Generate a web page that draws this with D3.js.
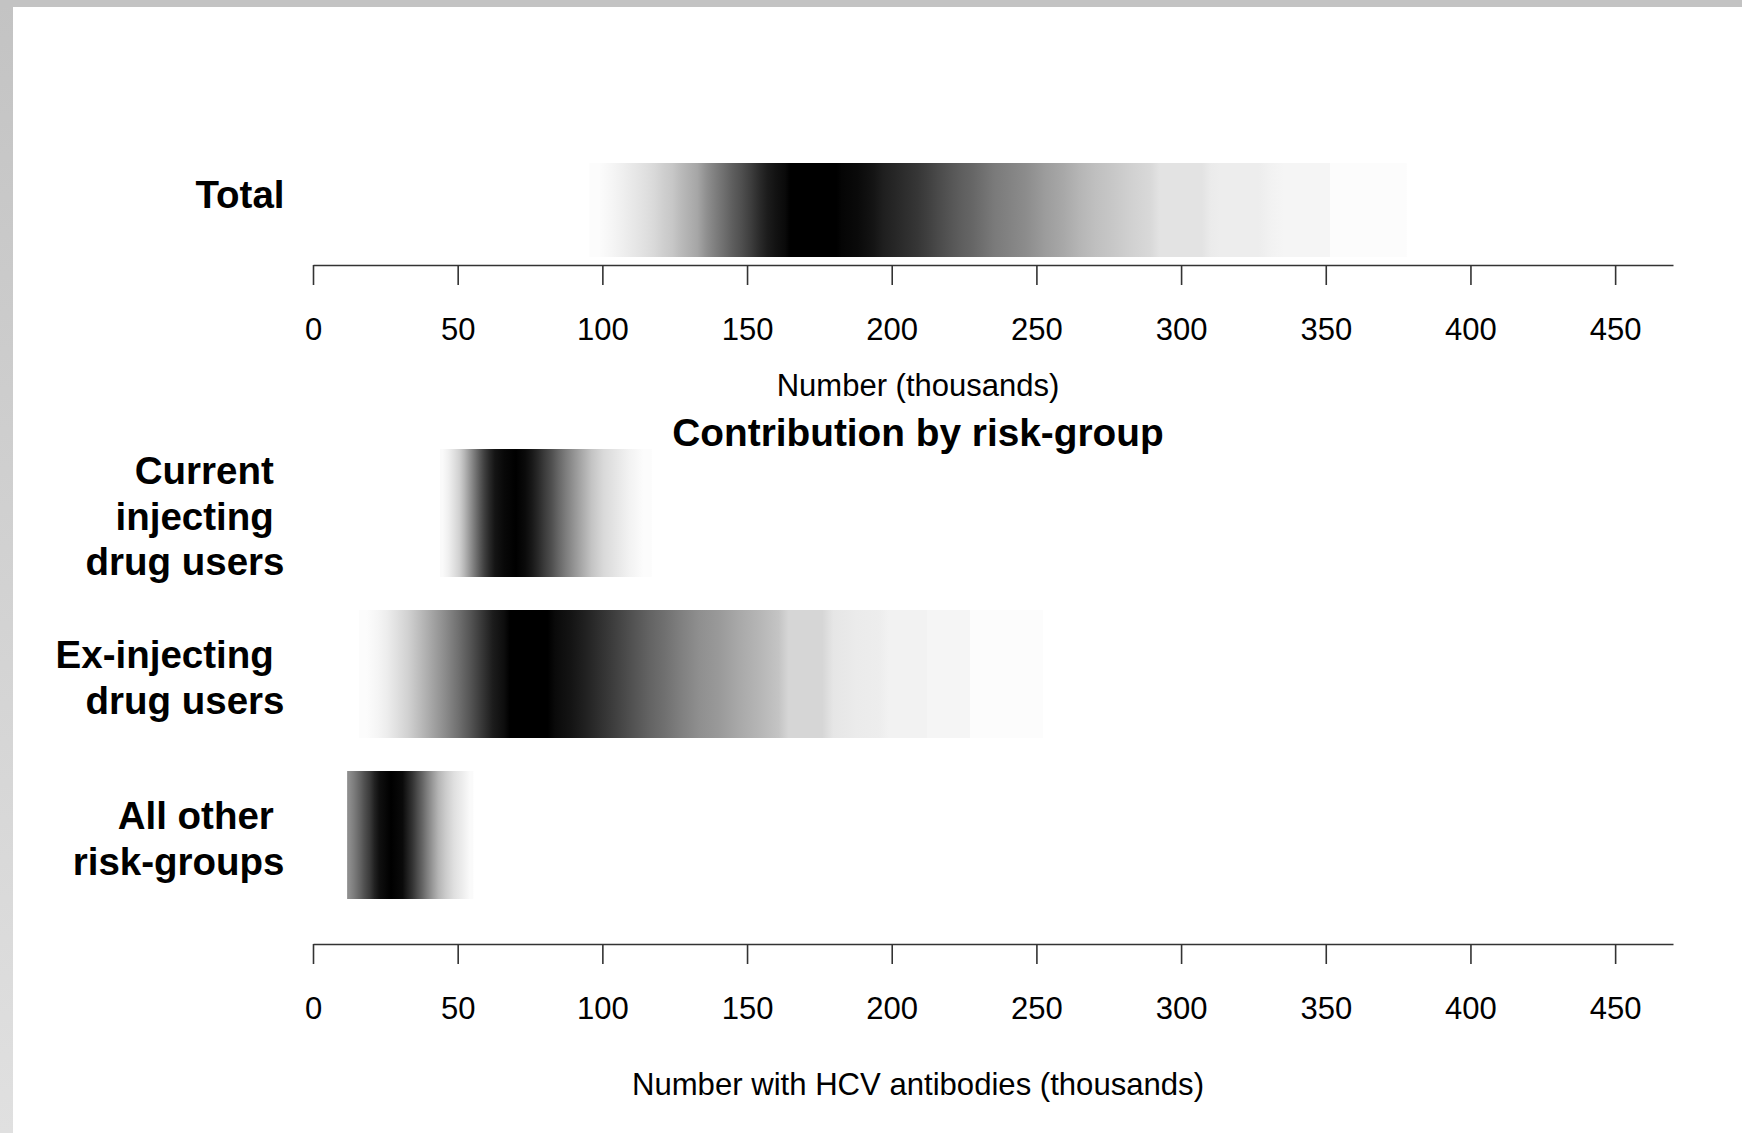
<!DOCTYPE html>
<html>
<head>
<meta charset="utf-8">
<script src="https://cdn.jsdelivr.net/npm/d3@7"></script>
<style>
  html, body { margin: 0; padding: 0; background: #ffffff; }
  svg { display: block; }
  text { font-family: "Liberation Sans", Arial, sans-serif; fill: #000; }
</style>
</head>
<body>
<svg id="chart" width="1742" height="1133"></svg>
<script>
// Number with HCV antibodies (thousands): density strips.
// Each strip is a run of bands; edges are in thousands, density is relative to the peak (0..1).

const tickValues = [0, 50, 100, 150, 200, 250, 300, 350, 400, 450];

const totalEdges = [95.5, 102.1, 105.0, 107.8, 110.2, 113.0, 116.5, 119.3, 122.8, 125.7, 128.6, 131.4,
  134.3, 137.8, 140.7, 143.5, 146.4, 149.9, 152.8, 155.6, 158.5, 161.4, 164.9, 181.0, 184.5, 191.9,
  195.4, 198.8, 202.9, 206.9, 210.9, 214.4, 217.8, 221.9, 225.9, 229.9, 233.4, 237.4, 243.2, 249.5,
  256.5, 262.2, 267.4, 273.1, 279.5, 286.4, 292.7, 307.2, 313.5, 326.7, 335.4, 351.5, 378.0];
const totalDensity = [0.01, 0.04, 0.06, 0.08, 0.10, 0.12, 0.15, 0.19, 0.22, 0.27, 0.31, 0.35, 0.44,
  0.51, 0.57, 0.63, 0.69, 0.76, 0.83, 0.89, 0.93, 0.96, 1.00, 0.98, 0.96, 0.92, 0.88, 0.85, 0.82,
  0.79, 0.75, 0.71, 0.67, 0.63, 0.60, 0.56, 0.52, 0.49, 0.45, 0.39, 0.34, 0.29, 0.25, 0.22, 0.18,
  0.15, 0.11, 0.08, 0.07, 0.05, 0.04, 0.01];

const groups = ["current", "ex", "other"];
const groupLabels = [["Current ", "injecting ", "drug users"], ["Ex-injecting ", "drug users"], ["All other ", "risk-groups"]];

const currentEdges = [43.9, 45.6, 47.9, 49.7, 51.4, 53.1, 54.9, 56.6, 58.3, 60.0, 61.8, 64.0, 68.1,
  72.1, 74.4, 76.7, 79.0, 81.3, 83.6, 86.0, 88.8, 91.7, 94.6, 98.1, 102.7, 107.2, 111.3, 117.1];
const currentDensity = [0.02, 0.06, 0.12, 0.18, 0.28, 0.40, 0.52, 0.64, 0.75, 0.84, 0.92, 0.97, 1.00,
  0.96, 0.91, 0.84, 0.76, 0.69, 0.60, 0.51, 0.42, 0.33, 0.23, 0.15, 0.10, 0.05, 0.01];

const exEdges = [15.9, 20.9, 24.0, 27.1, 30.9, 34.8, 38.6, 43.2, 47.9, 52.5, 56.4, 60.2, 64.1, 68.0,
  81.1, 86.4, 91.9, 96.5, 101.9, 107.3, 113.5, 118.9, 124.3, 130.4, 136.6, 143.5, 150.5, 157.4,
  164.4, 176.0, 183.7, 192.1, 199.1, 212.2, 226.9, 252.3];
const exDensity = [0.01, 0.04, 0.07, 0.12, 0.18, 0.26, 0.35, 0.45, 0.56, 0.67, 0.78, 0.89, 0.95, 1.00,
  0.96, 0.92, 0.87, 0.81, 0.75, 0.68, 0.61, 0.56, 0.50, 0.44, 0.40, 0.34, 0.29, 0.23, 0.16, 0.10,
  0.08, 0.07, 0.05, 0.04, 0.01];

const otherEdges = [11.8, 13.5, 15.2, 16.9, 18.7, 20.4, 22.1, 23.8, 30.1, 31.8, 33.5, 35.2, 37.0,
  38.7, 40.4, 42.2, 44.5, 47.4, 50.2, 53.1, 55.4];
const otherDensity = [0.45, 0.52, 0.60, 0.69, 0.77, 0.87, 0.94, 1.00, 0.96, 0.88, 0.80, 0.70, 0.60,
  0.50, 0.40, 0.29, 0.20, 0.12, 0.07, 0.02];

const groupEdges = { current: currentEdges, ex: exEdges, other: otherEdges };
const groupDensity = { current: currentDensity, ex: exDensity, other: otherDensity };

// ---------------------------------------------------------------------------
const svg = d3.select("#chart");
const W = 1742, H = 1133;
const defs = svg.append("defs");

// light grey frame on the top and left edges
const lg = defs.append("linearGradient").attr("id", "frameGrad")
  .attr("x1", 0).attr("y1", 0).attr("x2", 0).attr("y2", 1);
lg.append("stop").attr("offset", "0%").attr("stop-color", "#c3c3c3");
lg.append("stop").attr("offset", "100%").attr("stop-color", "#e0e0e0");
svg.append("rect").attr("x", 0).attr("y", 0).attr("width", 13).attr("height", H).attr("fill", "url(#frameGrad)");
svg.append("rect").attr("x", 0).attr("y", 0).attr("width", W).attr("height", 7).attr("fill", "#c3c3c3");

const x = d3.scaleLinear().domain([0, 470]).range([313, 1673]);
const shade = d3.scaleLinear().domain([0, 1]).range(["#ffffff", "#000000"]).interpolate(d3.interpolateRgb);

// Shading along a strip: narrow bands blend smoothly into their neighbours,
// wide bands keep a flat tone with a hard step at their edges.
function drawStrip(id, edges, dens, y0, h) {
  const a = x(edges[0]), b = x(edges[edges.length - 1]);
  const grad = defs.append("linearGradient").attr("id", id)
    .attr("gradientUnits", "userSpaceOnUse")
    .attr("x1", a).attr("x2", b).attr("y1", 0).attr("y2", 0);
  const stops = [];
  dens.forEach((d, i) => {
    const p0 = x(edges[i]), p1 = x(edges[i + 1]);
    const wide = (p1 - p0) > 28;
    if (i === 0 || wide) stops.push({ p: p0, d });
    if (!wide) stops.push({ p: (p0 + p1) / 2, d });
    if (i === dens.length - 1 || wide) stops.push({ p: p1, d });
  });
  grad.selectAll("stop").data(stops).join("stop")
    .attr("offset", s => ((s.p - a) / (b - a) * 100).toFixed(3) + "%")
    .attr("stop-color", s => shade(s.d));
  svg.append("rect")
    .attr("x", a).attr("width", b - a)
    .attr("y", y0).attr("height", h)
    .attr("fill", `url(#${id})`);
}

function drawAxis(y) {
  const ax = d3.axisBottom(x).tickValues(tickValues).tickSize(20).tickSizeOuter(0).tickPadding(33)
    .tickFormat(d3.format("d"));
  const g = svg.append("g").attr("transform", `translate(0,${y})`).call(ax);
  g.select(".domain").attr("stroke", "#333").attr("stroke-width", 1.6);
  g.selectAll(".tick line").attr("stroke", "#333").attr("stroke-width", 1.6);
  g.selectAll(".tick text").attr("font-size", 31).attr("fill", "#000")
    .attr("font-family", "'Liberation Sans', Arial, sans-serif");
  return g;
}

// ---- Top panel: total ----
drawStrip("strip-total", totalEdges, totalDensity, 163, 94);
svg.append("text").attr("x", 284.5).attr("y", 208).attr("text-anchor", "end")
  .attr("font-size", 38.5).attr("font-weight", "bold").text("Total");
drawAxis(265);
svg.append("text").attr("x", 918).attr("y", 396).attr("text-anchor", "middle")
  .attr("font-size", 31).text("Number (thousands)");

// ---- Bottom panel: by risk-group ----
svg.append("text").attr("x", 918).attr("y", 446).attr("text-anchor", "middle")
  .attr("font-size", 38.8).attr("font-weight", "bold").text("Contribution by risk-group");

const yb = d3.scaleBand().domain(groups).range([449, 899]).paddingInner(0.205).paddingOuter(0);

groups.forEach((k, gi) => {
  const y0 = yb(k), h = yb.bandwidth();
  drawStrip("strip-" + k, groupEdges[k], groupDensity[k], y0, h);
  const lines = groupLabels[gi];
  const lh = 45.5, mid = y0 + h / 2 + 3;
  const first = mid - (lines.length - 1) * lh / 2;
  const t = svg.append("text").attr("text-anchor", "end").attr("font-size", 38.5)
    .attr("font-weight", "bold").attr("xml:space", "preserve").style("white-space", "pre");
  lines.forEach((s, i) => {
    t.append("tspan").attr("x", 284.5).attr("y", first + i * lh + 13.8).text(s);
  });
});

drawAxis(944);
svg.append("text").attr("x", 918).attr("y", 1095).attr("text-anchor", "middle")
  .attr("font-size", 31.1).text("Number with HCV antibodies (thousands)");
</script>
</body>
</html>
